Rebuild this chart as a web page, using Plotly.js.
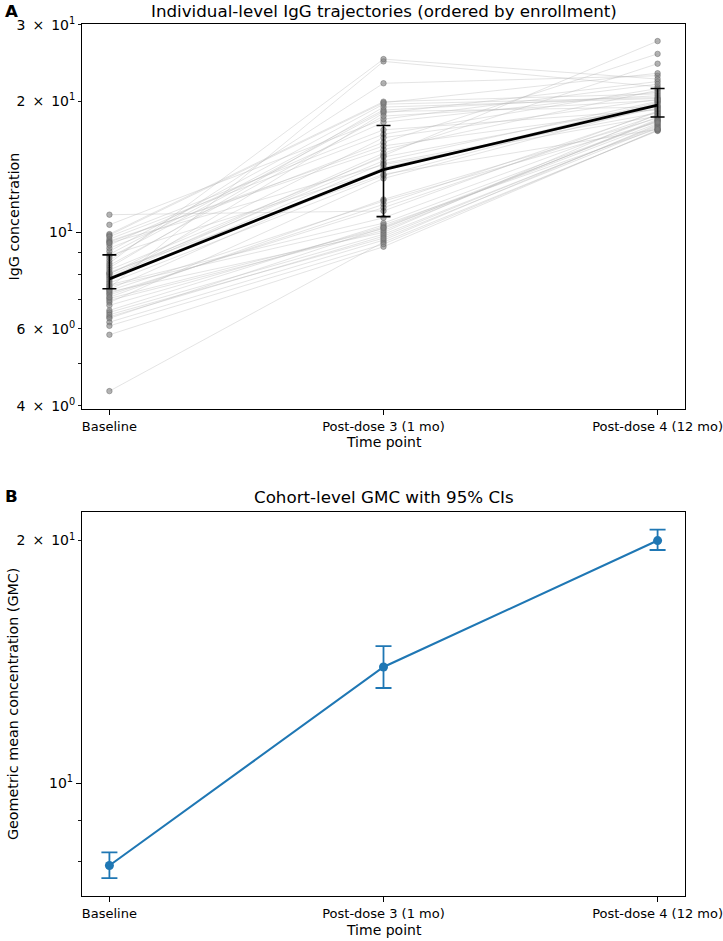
<!DOCTYPE html>
<html>
<head>
<meta charset="utf-8">
<script src="https://cdn.plot.ly/plotly-3.0.1.min.js"></script>
<style>html,body{margin:0;padding:0;background:#fff}#chart{width:723px;height:941px}</style>
</head>
<body>
<div id="chart"></div>
<script>
// ---------- data ----------
const timepoints = ["Baseline", "Post-dose 3 (1 mo)", "Post-dose 4 (12 mo)"];

// individual subjects (enrollment order)
const baseline = [8.30, 7.05, 9.55, 6.40, 10.98, 7.72, 8.85, 6.62, 7.46, 9.20,
                  4.32, 8.05, 7.30, 9.91, 6.90, 8.62, 7.58, 5.82, 9.35, 7.88,
                  6.22, 8.90, 7.18, 10.41, 7.40, 6.80, 8.50, 7.65, 6.55, 9.05,
                  7.95, 6.10, 8.40, 7.24, 9.65, 6.98, 8.20, 7.10, 9.85, 6.47,
                  8.02, 7.52, 8.75, 6.35, 9.78, 7.80, 9.50, 7.35, 9.45, 8.10];
const postDose3 = [19.4, 10.2, 15.5, 9.8, 11.2, 18.8, 13.9, 10.4, 24.7, 16.1,
                   9.5, 14.6, 10.0, 19.96, 13.3, 22.0, 10.8, 9.27, 17.9, 15.0,
                   9.6, 19.1, 11.6, 18.2, 14.1, 10.3, 25.0, 13.5, 9.9, 19.7,
                   15.2, 9.4, 18.5, 11.4, 16.8, 10.1, 14.9, 11.9, 19.85, 9.7,
                   16.5, 10.5, 18.95, 10.25, 17.2, 14.4, 15.8, 11.8, 14.3, 13.6];
const postDose4 = [20.3, 18.1, 21.2, 17.6, 19.0, 22.2, 19.9, 17.3, 21.6, 25.7,
                   17.1, 20.0, 18.7, 20.8, 19.5, 22.9, 18.4, 17.2, 21.0, 27.5,
                   17.7, 20.6, 18.9, 21.9, 19.3, 18.0, 22.5, 19.8, 17.5, 20.4,
                   24.4, 17.15, 20.1, 18.6, 21.4, 18.2, 19.6, 18.3, 23.2, 17.4,
                   20.2, 18.05, 19.4, 17.8, 19.1, 18.8, 19.2, 17.9, 18.5, 17.25];

// group summary in panel A
const meanLine = [7.82, 13.93, 19.6];
const meanUpper = [8.88, 17.6, 21.4];
const meanLower = [7.42, 10.87, 18.4];

// panel B: GMC with 95% CI
const gmc = [7.91, 13.94, 20.0];
const gmcLower = [7.63, 13.13, 19.47];
const gmcUpper = [8.21, 14.80, 20.64];

// tick labels
const SP = "\u2002";
const topMajorVals = [10];
const topMajorText = ["10<sup>1</sup>"];
const topLabeledMinorVals = [4, 6, 20, 30];
const topLabeledMinorText = ["4" + SP + "×" + SP + "10<sup>0</sup>", "6" + SP + "×" + SP + "10<sup>0</sup>",
                             "2" + SP + "×" + SP + "10<sup>1</sup>", "3" + SP + "×" + SP + "10<sup>1</sup>"];
const topMinorVals = [5, 7, 8, 9];
const botMajorVals = [10];
const botMajorText = ["10<sup>1</sup>"];
const botLabeledMinorVals = [20];
const botLabeledMinorText = ["2" + SP + "×" + SP + "10<sup>1</sup>"];
const botMinorVals = [7, 8, 9];

// ---------- layout helpers ----------
const W = 723, H = 941;
const px = x => x / W;
const py = y => 1 - y / H;
const FONT = "DejaVu Sans, Liberation Sans, sans-serif";
const xDom = [px(82), px(685)];
const topDom = [py(409), py(24)];
const botDom = [py(896), py(512)];
const topRange = [Math.log10(3.93), Math.log10(30.1)];
const botRange = [Math.log10(7.25), Math.log10(21.7)];

const traces = [];
// individual lines
for (let i = 0; i < baseline.length; i++) {
  traces.push({
    x: timepoints, y: [baseline[i], postDose3[i], postDose4[i]],
    xaxis: 'x', yaxis: 'y', mode: 'lines', type: 'scatter',
    line: {color: 'rgba(185,185,185,0.38)', width: 1},
    hoverinfo: 'skip', showlegend: false
  });
}
// individual points
const cols = [baseline, postDose3, postDose4];
cols.forEach((arr, k) => {
  traces.push({
    x: arr.map(() => timepoints[k]), y: arr,
    xaxis: 'x', yaxis: 'y', mode: 'markers', type: 'scatter',
    marker: {color: 'rgba(128,128,128,0.6)', size: 5.5,
             line: {color: 'rgba(100,100,100,0.6)', width: 0.8}},
    hoverinfo: 'skip', showlegend: false
  });
});
// mean line with error bars
traces.push({
  x: timepoints, y: meanLine, xaxis: 'x', yaxis: 'y',
  mode: 'lines', type: 'scatter',
  line: {color: '#000', width: 2.8},
  error_y: {type: 'data', symmetric: false,
            array: meanUpper.map((v, i) => v - meanLine[i]),
            arrayminus: meanLine.map((v, i) => v - meanLower[i]),
            color: '#000', thickness: 1.6, width: 7},
  showlegend: false
});
// panel B
traces.push({
  x: timepoints, y: gmc, xaxis: 'x2', yaxis: 'y2',
  mode: 'lines+markers', type: 'scatter',
  line: {color: '#1f77b4', width: 2.1},
  marker: {color: '#1f77b4', size: 9},
  error_y: {type: 'data', symmetric: false,
            array: gmcUpper.map((v, i) => v - gmc[i]),
            arrayminus: gmc.map((v, i) => v - gmcLower[i]),
            color: '#1f77b4', thickness: 1.8, width: 8},
  showlegend: false
});
// invisible anchors for overlay tick axes
traces.push({x: [timepoints[0]], y: [10], xaxis: 'x', yaxis: 'y3', mode: 'markers',
             marker: {opacity: 0}, hoverinfo: 'skip', showlegend: false});
traces.push({x: [timepoints[0]], y: [10], xaxis: 'x2', yaxis: 'y4', mode: 'markers',
             marker: {opacity: 0}, hoverinfo: 'skip', showlegend: false});

const xTickFont = {family: FONT, size: 13, color: '#000'};
const yTickFont = {family: FONT, size: 14, color: '#000'};
const xCommon = {
  type: 'category', range: [-0.1, 2.1], tickvals: timepoints, ticktext: timepoints,
  ticks: 'outside', ticklen: 5, tickwidth: 1.1, tickcolor: '#000',
  showline: true, linecolor: '#000', linewidth: 1.1, mirror: true,
  showgrid: false, zeroline: false, tickfont: xTickFont, fixedrange: true
};
const yCommon = {
  type: 'log', ticks: 'outside', ticklen: 5, tickwidth: 1.1, tickcolor: '#000',
  showline: true, linecolor: '#000', linewidth: 1.1, mirror: true,
  showgrid: false, zeroline: false, tickfont: yTickFont, tickmode: 'array'
};

const layout = {
  width: W, height: H,
  margin: {l: 0, r: 0, t: 0, b: 0, pad: 0},
  paper_bgcolor: '#fff', plot_bgcolor: '#fff',
  font: {family: FONT, color: '#000'},
  showlegend: false,
  xaxis: Object.assign({}, xCommon, {domain: xDom, anchor: 'y'}),
  yaxis: Object.assign({}, yCommon, {domain: topDom, anchor: 'x', range: topRange,
    tickvals: topMajorVals, ticktext: topMajorText,
    minor: {tickmode: 'array', tickvals: topMinorVals, ticks: 'outside', ticklen: 3, tickwidth: 0.9, tickcolor: '#000'}}),
  yaxis3: {type: 'log', overlaying: 'y', anchor: 'x', side: 'left', range: topRange,
    tickmode: 'array', tickvals: topLabeledMinorVals, ticktext: topLabeledMinorText,
    ticks: 'outside', ticklen: 3, tickwidth: 0.9, tickcolor: '#000',
    showline: false, showgrid: false, zeroline: false, tickfont: yTickFont},
  xaxis2: Object.assign({}, xCommon, {domain: xDom, anchor: 'y2'}),
  yaxis2: Object.assign({}, yCommon, {domain: botDom, anchor: 'x2', range: botRange,
    tickvals: botMajorVals, ticktext: botMajorText,
    minor: {tickmode: 'array', tickvals: botMinorVals, ticks: 'outside', ticklen: 3, tickwidth: 0.9, tickcolor: '#000'}}),
  yaxis4: {type: 'log', overlaying: 'y2', anchor: 'x2', side: 'left', range: botRange,
    tickmode: 'array', tickvals: botLabeledMinorVals, ticktext: botLabeledMinorText,
    ticks: 'outside', ticklen: 3, tickwidth: 0.9, tickcolor: '#000',
    showline: false, showgrid: false, zeroline: false, tickfont: yTickFont},
  annotations: [
    {text: 'Individual-level IgG trajectories (ordered by enrollment)', x: px(383.5), y: py(11),
     xref: 'paper', yref: 'paper', xanchor: 'center', yanchor: 'middle', showarrow: false,
     font: {family: FONT, size: 16.7, color: '#000'}},
    {text: 'Cohort-level GMC with 95% CIs', x: px(383.5), y: py(497),
     xref: 'paper', yref: 'paper', xanchor: 'center', yanchor: 'middle', showarrow: false,
     font: {family: FONT, size: 16.7, color: '#000'}},
    {text: 'Time point', x: px(383.5), y: py(442),
     xref: 'paper', yref: 'paper', xanchor: 'center', yanchor: 'middle', showarrow: false,
     font: {family: FONT, size: 14, color: '#000'}},
    {text: 'Time point', x: px(383.5), y: py(930),
     xref: 'paper', yref: 'paper', xanchor: 'center', yanchor: 'middle', showarrow: false,
     font: {family: FONT, size: 14, color: '#000'}},
    {text: 'IgG concentration', x: px(13), y: py(216.5), textangle: -90,
     xref: 'paper', yref: 'paper', xanchor: 'center', yanchor: 'middle', showarrow: false,
     font: {family: FONT, size: 14.3, color: '#000'}},
    {text: 'Geometric mean concentration (GMC)', x: px(13), y: py(704), textangle: -90,
     xref: 'paper', yref: 'paper', xanchor: 'center', yanchor: 'middle', showarrow: false,
     font: {family: FONT, size: 14.3, color: '#000'}},
    {text: '<b>A</b>', x: px(3), y: py(11),
     xref: 'paper', yref: 'paper', xanchor: 'left', yanchor: 'middle', showarrow: false,
     font: {family: FONT, size: 16.7, color: '#000'}},
    {text: '<b>B</b>', x: px(3), y: py(496),
     xref: 'paper', yref: 'paper', xanchor: 'left', yanchor: 'middle', showarrow: false,
     font: {family: FONT, size: 16.7, color: '#000'}}
  ]
};

Plotly.newPlot('chart', traces, layout, {displayModeBar: false, staticPlot: true});
</script>
</body>
</html>
